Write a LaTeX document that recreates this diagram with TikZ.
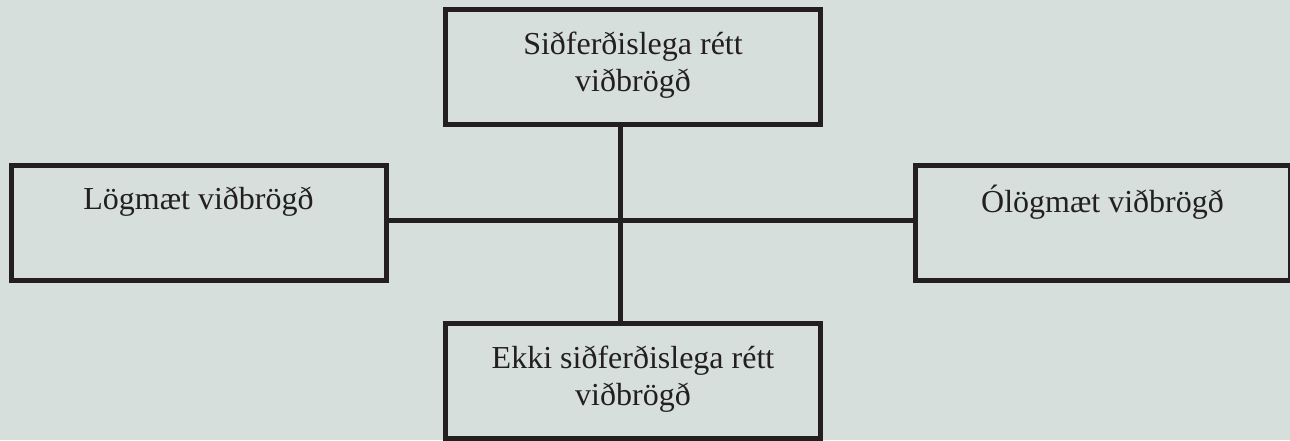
\documentclass[tikz,border=0pt]{standalone}
\usepackage{fontspec}
\setmainfont{Liberation Serif}
\definecolor{bg}{HTML}{D6DFDC}
\definecolor{ink}{HTML}{231F20}
\begin{document}
\begin{tikzpicture}[x=1pt,y=-1pt,
  box/.style={draw=ink, line width=5pt, fill=bg, minimum width=375pt, minimum height=115pt,
    inner sep=0pt, align=center, text=ink, font=\fontsize{32}{37}\selectfont},
  conn/.style={draw=ink, line width=5pt}]
\fill[bg] (0,0) rectangle (1290,440);
\useasboundingbox (0,0) rectangle (1290,440);
\coordinate (vx) at (620,0);
\node[box] (top) at (633,67) {Siðferðislega rétt\\viðbrögð\strut};
\node[box] (left) at (198.5,222.5) {Lögmæt viðbrögð\\\strut};
\node[box] (right) at (1102.5,222.5) {Ólögmæt viðbrögð\\\strut};
\node[box] (bot) at (633,381) {Ekki siðferðislega rétt\\viðbrögð\strut};
\draw[conn] (top.south -| vx) -- (bot.north -| vx);
\draw[conn] ([yshift=2pt]left.east) -- ([yshift=2pt]right.west);
\end{tikzpicture}
\end{document}
